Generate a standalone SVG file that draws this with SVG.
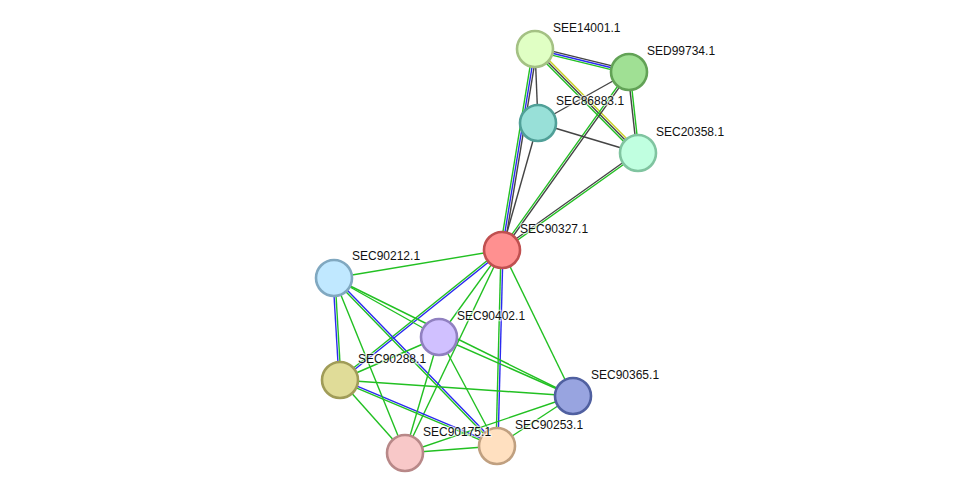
<svg xmlns="http://www.w3.org/2000/svg" width="976" height="499" viewBox="0 0 976 499">
<style>
.e line{stroke-width:1.4;fill:none}
.g{stroke:#22c022}
.b{stroke:#2a2af0}
.k{stroke:#444}
.y{stroke:#c8d020}
.n circle{stroke-width:2.6}
.n text{font-family:"Liberation Sans",Arial,sans-serif;font-size:12px;fill:#111;stroke:#fff;stroke-width:2.5;stroke-opacity:0.6;paint-order:stroke}
</style>
<rect width="976" height="499" fill="#fff"/>
<g id="edges" class="e">
<line class="k" x1="535.5" y1="47.1" x2="629.5" y2="70.1"/>
<line class="b" x1="535" y1="49" x2="629" y2="72"/>
<line class="g" x1="534.5" y1="50.9" x2="628.5" y2="73.9"/>
<line class="g" x1="533.6" y1="50.4" x2="636.6" y2="154.4"/>
<line class="k" x1="535" y1="49" x2="638" y2="153"/>
<line class="y" x1="536.4" y1="47.6" x2="639.4" y2="151.6"/>
<line class="g" x1="533" y1="48.7" x2="500" y2="249.7"/>
<line class="b" x1="535" y1="49" x2="502" y2="250"/>
<line class="k" x1="537" y1="49.3" x2="504" y2="250.3"/>
<line class="k" x1="535" y1="49" x2="538" y2="123"/>
<line class="k" x1="629" y1="72" x2="538" y2="123"/>
<line class="k" x1="628" y1="72.1" x2="637" y2="153.1"/>
<line class="g" x1="630" y1="71.9" x2="639" y2="152.9"/>
<line class="g" x1="628.2" y1="71.4" x2="501.2" y2="249.4"/>
<line class="k" x1="629.8" y1="72.6" x2="502.8" y2="250.6"/>
<line class="k" x1="538" y1="123" x2="638" y2="153"/>
<line class="k" x1="538" y1="123" x2="502" y2="250"/>
<line class="k" x1="637.4" y1="152.2" x2="501.4" y2="249.2"/>
<line class="g" x1="638.6" y1="153.8" x2="502.6" y2="250.8"/>
<line class="g" x1="502" y1="250" x2="334" y2="278"/>
<line class="g" x1="501.4" y1="249.2" x2="339.4" y2="379.2"/>
<line class="b" x1="502.6" y1="250.8" x2="340.6" y2="380.8"/>
<line class="g" x1="502" y1="250" x2="439" y2="337"/>
<line class="g" x1="502" y1="250" x2="405" y2="453"/>
<line class="g" x1="501" y1="250" x2="496" y2="446"/>
<line class="b" x1="503" y1="250" x2="498" y2="446"/>
<line class="g" x1="502" y1="250" x2="573" y2="396"/>
<line class="b" x1="333" y1="278" x2="339" y2="380"/>
<line class="g" x1="335" y1="278" x2="341" y2="380"/>
<line class="g" x1="333.3" y1="278.7" x2="496.3" y2="446.7"/>
<line class="b" x1="334.7" y1="277.3" x2="497.7" y2="445.3"/>
<line class="b" x1="340.4" y1="379.1" x2="497.4" y2="445.1"/>
<line class="g" x1="339.6" y1="380.9" x2="496.6" y2="446.9"/>
<line class="g" x1="334" y1="278" x2="439" y2="337"/>
<line class="g" x1="334" y1="278" x2="573" y2="396"/>
<line class="g" x1="439" y1="337" x2="573" y2="396"/>
<line class="g" x1="334" y1="278" x2="405" y2="453"/>
<line class="g" x1="439" y1="337" x2="340" y2="380"/>
<line class="g" x1="439" y1="337" x2="405" y2="453"/>
<line class="g" x1="439" y1="337" x2="497" y2="446"/>
<line class="g" x1="340" y1="380" x2="573" y2="396"/>
<line class="g" x1="340" y1="380" x2="405" y2="453"/>
<line class="g" x1="573" y1="396" x2="497" y2="446"/>
<line class="g" x1="573" y1="396" x2="405" y2="453"/>
<line class="g" x1="405" y1="453" x2="497" y2="446"/>
</g>
<g id="SEE14001.1" class="n"><circle cx="535" cy="49" r="18" fill="#e0ffc4" stroke="#a4c184"/><text x="553" y="32">SEE14001.1</text></g>
<g id="SED99734.1" class="n"><circle cx="629" cy="72" r="18" fill="#a0e094" stroke="#62a256"/><text x="647" y="55">SED99734.1</text></g>
<g id="SEC86883.1" class="n"><circle cx="538" cy="123" r="18" fill="#98e0d8" stroke="#50a098"/><text x="556" y="105">SEC86883.1</text></g>
<g id="SEC20358.1" class="n"><circle cx="638" cy="153" r="18" fill="#c0ffe0" stroke="#80c4a0"/><text x="656" y="136">SEC20358.1</text></g>
<g id="SEC90327.1" class="n"><circle cx="502" cy="250" r="18" fill="#ff9090" stroke="#c05050"/><text x="520" y="233">SEC90327.1</text></g>
<g id="SEC90212.1" class="n"><circle cx="334" cy="278" r="18" fill="#c0e8ff" stroke="#80a8c0"/><text x="352" y="260">SEC90212.1</text></g>
<g id="SEC90402.1" class="n"><circle cx="439" cy="337" r="18" fill="#d0c0ff" stroke="#9080c0"/><text x="457" y="320">SEC90402.1</text></g>
<g id="SEC90288.1" class="n"><circle cx="340" cy="380" r="18" fill="#e0dc98" stroke="#a09c58"/><text x="358" y="363">SEC90288.1</text></g>
<g id="SEC90365.1" class="n"><circle cx="573" cy="396" r="18" fill="#98a4e0" stroke="#5060a0"/><text x="591" y="379">SEC90365.1</text></g>
<g id="SEC90253.1" class="n"><circle cx="497" cy="446" r="18" fill="#ffe0c0" stroke="#c0a080"/><text x="515" y="429">SEC90253.1</text></g>
<g id="SEC90175.1" class="n"><circle cx="405" cy="453" r="18" fill="#f8c8c8" stroke="#b88888"/><text x="423" y="436">SEC90175.1</text></g>
</svg>
